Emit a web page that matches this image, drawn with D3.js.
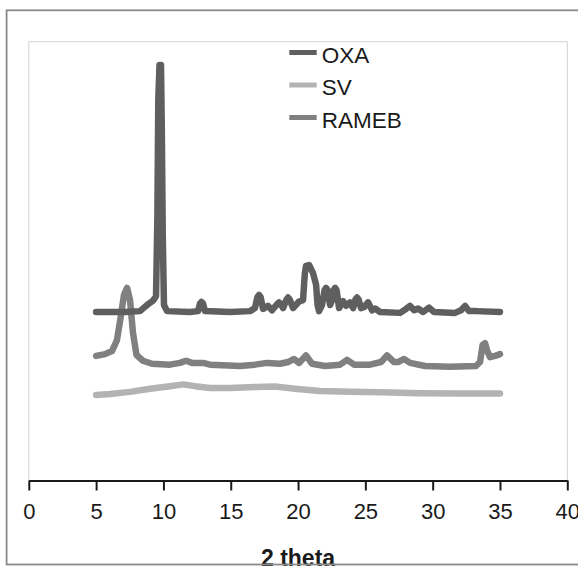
<!DOCTYPE html>
<html>
<head>
<meta charset="utf-8">
<script src="https://cdn.jsdelivr.net/npm/d3@7"></script>
<style>
  body { margin: 0; background: #fff; }
  svg { display: block; font-family: "Liberation Sans", Arial, sans-serif; }
</style>
</head>
<body>
<div id="chart"></div>
<script>
// 2 theta / intensity (arbitrary units)
const oxaTheta = [5.0, 6.03, 7.15, 8.26, 8.71, 9.0, 9.23, 9.45, 9.55, 9.62, 9.71, 9.82, 9.88, 9.95,
  10.04, 10.27, 11.98, 12.57, 12.72, 12.83, 12.94, 13.09, 14.95, 16.43, 16.8, 16.98, 17.1, 17.22,
  17.4, 17.77, 18.07, 18.48, 18.59, 18.7, 18.89, 19.15, 19.26, 19.37, 19.63, 20.07, 20.37, 20.5,
  20.59, 20.82, 21.0, 21.11, 21.34, 21.45, 21.56, 21.78, 21.97, 22.08, 22.19, 22.38, 22.53, 22.65,
  22.75, 22.86, 23.05, 23.34, 23.57, 23.86, 24.09, 24.27, 24.38, 24.49, 24.68, 24.9, 25.2, 25.5,
  25.72, 26.09, 27.58, 28.02, 28.32, 28.62, 28.91, 29.29, 29.73, 30.1, 31.66, 32.11, 32.41, 32.7,
  33.26, 35.0];
const oxaValues = [384, 384, 384, 386, 398, 405, 410, 420, 600, 870, 947, 947, 800, 560,
  400, 386, 384, 386, 403, 407, 403, 386, 384, 386, 393, 418, 423, 418,
  391, 398, 388, 403, 406, 403, 393, 413, 417, 413, 393, 408, 411, 470,
  489, 491, 480, 473, 446, 400, 386, 400, 434, 439, 434, 400, 411, 434,
  439, 434, 393, 409, 398, 406, 393, 413, 417, 413, 393, 395, 406, 388,
  392, 384, 382, 391, 398, 388, 392, 384, 394, 384, 382, 388, 398, 386,
  386, 384];

const svTheta = [5.0, 6.03, 7.52, 9.0, 10.49, 11.46, 12.35, 13.46, 14.95, 16.8, 18.29, 19.78,
  21.63, 23.86, 26.09, 29.06, 32.03, 35.0];
const svValues = [195, 197, 202, 209, 215, 219, 215, 211, 211, 213, 214, 209,
  204, 202, 201, 199, 198, 198];

const ramebTheta = [5.0, 5.66, 6.18, 6.55, 6.85, 7.07, 7.3, 7.52, 7.74, 8.0, 8.48, 9.15, 10.49,
  11.23, 11.68, 12.12, 12.94, 13.46, 15.69, 16.8, 17.7, 18.66, 19.26, 19.7, 20.07, 20.59, 21.04,
  22.0, 23.12, 23.64, 24.16, 25.35, 26.17, 26.61, 27.13, 27.43, 27.87, 28.32, 29.43, 31.29, 33.22,
  33.52, 33.71, 33.89, 34.04, 34.26, 34.64, 35.0];
const ramebValues = [284, 288, 295, 320, 377, 423, 439, 411, 336, 286, 273, 266, 264,
  268, 273, 268, 268, 264, 261, 264, 268, 266, 270, 277, 268, 285, 266,
  261, 264, 275, 264, 264, 270, 285, 270, 270, 277, 268, 261, 259, 261,
  270, 309, 313, 297, 281, 284, 288];

const seriesNames = ['OXA', 'SV', 'RAMEB'];
const seriesColors = ['#5f5f5f', '#b3b3b3', '#808080'];
const xTicks = [0, 5, 10, 15, 20, 25, 30, 35, 40];

const width = 578;
const height = 568;
const plot = { left: 28.8, right: 567.3, top: 41.7, bottom: 480.5 };

const series = [
  { name: 'OXA', points: d3.zip(oxaTheta, oxaValues) },
  { name: 'SV', points: d3.zip(svTheta, svValues) },
  { name: 'RAMEB', points: d3.zip(ramebTheta, ramebValues) },
];

const color = d3.scaleOrdinal().domain(seriesNames).range(seriesColors);

const x = d3.scaleLinear().domain([0, 40]).range([plot.left, plot.right]);
const y = d3.scaleLinear().domain([0, 1000]).range([plot.bottom, plot.top]);

const svg = d3.select('#chart').append('svg')
  .attr('width', width)
  .attr('height', height);

// plot area frame
svg.append('rect')
  .attr('x', plot.left)
  .attr('y', plot.top)
  .attr('width', plot.right - plot.left)
  .attr('height', plot.bottom - plot.top)
  .attr('fill', 'none')
  .attr('stroke', '#d3d3d3')
  .attr('stroke-width', 1);

const line = d3.line()
  .x((d) => x(d[0]))
  .y((d) => y(d[1]));

// draw SV first so the darker traces sit on top
svg.append('g')
  .selectAll('path')
  .data([series[1], series[2], series[0]])
  .enter().append('path')
    .attr('d', (d) => line(d.points))
    .attr('fill', 'none')
    .attr('stroke', (d) => color(d.name))
    .attr('stroke-width', 6.5)
    .attr('stroke-linejoin', 'round')
    .attr('stroke-linecap', 'round');

const xAxis = svg.append('g')
  .attr('transform', `translate(0, ${plot.bottom})`)
  .call(d3.axisBottom(x).tickValues(xTicks).tickSize(10).tickPadding(13).tickSizeOuter(0));

xAxis.select('.domain')
  .attr('stroke', '#1a1a1a')
  .attr('stroke-width', 2);
xAxis.selectAll('.tick line')
  .attr('stroke', '#1a1a1a')
  .attr('stroke-width', 2);
xAxis.selectAll('.tick text')
  .attr('fill', '#1a1a1a')
  .attr('font-family', '"Liberation Sans", Arial, sans-serif')
  .attr('font-size', 22);

svg.append('text')
  .attr('x', (plot.left + plot.right) / 2)
  .attr('y', 566)
  .attr('text-anchor', 'middle')
  .attr('font-size', 23)
  .attr('font-weight', 'bold')
  .attr('fill', '#1a1a1a')
  .text('2 theta');

// legend
const legend = svg.append('g')
  .selectAll('g')
  .data(seriesNames)
  .enter().append('g')
    .attr('transform', (d, i) => `translate(289.3, ${52.5 + i * 32.5})`);

legend.append('line')
  .attr('x1', 0)
  .attr('x2', 27.4)
  .attr('stroke', (d) => color(d))
  .attr('stroke-width', 5);

legend.append('text')
  .attr('x', 32.4)
  .attr('y', 10)
  .attr('font-size', 22.5)
  .attr('fill', '#1a1a1a')
  .text((d) => d);

// outer chart border
svg.append('rect')
  .attr('x', 6.6)
  .attr('y', 10.3)
  .attr('width', 700)
  .attr('height', 554.2)
  .attr('fill', 'none')
  .attr('stroke', '#8a8a8a')
  .attr('stroke-width', 1.8);
</script>
</body>
</html>
